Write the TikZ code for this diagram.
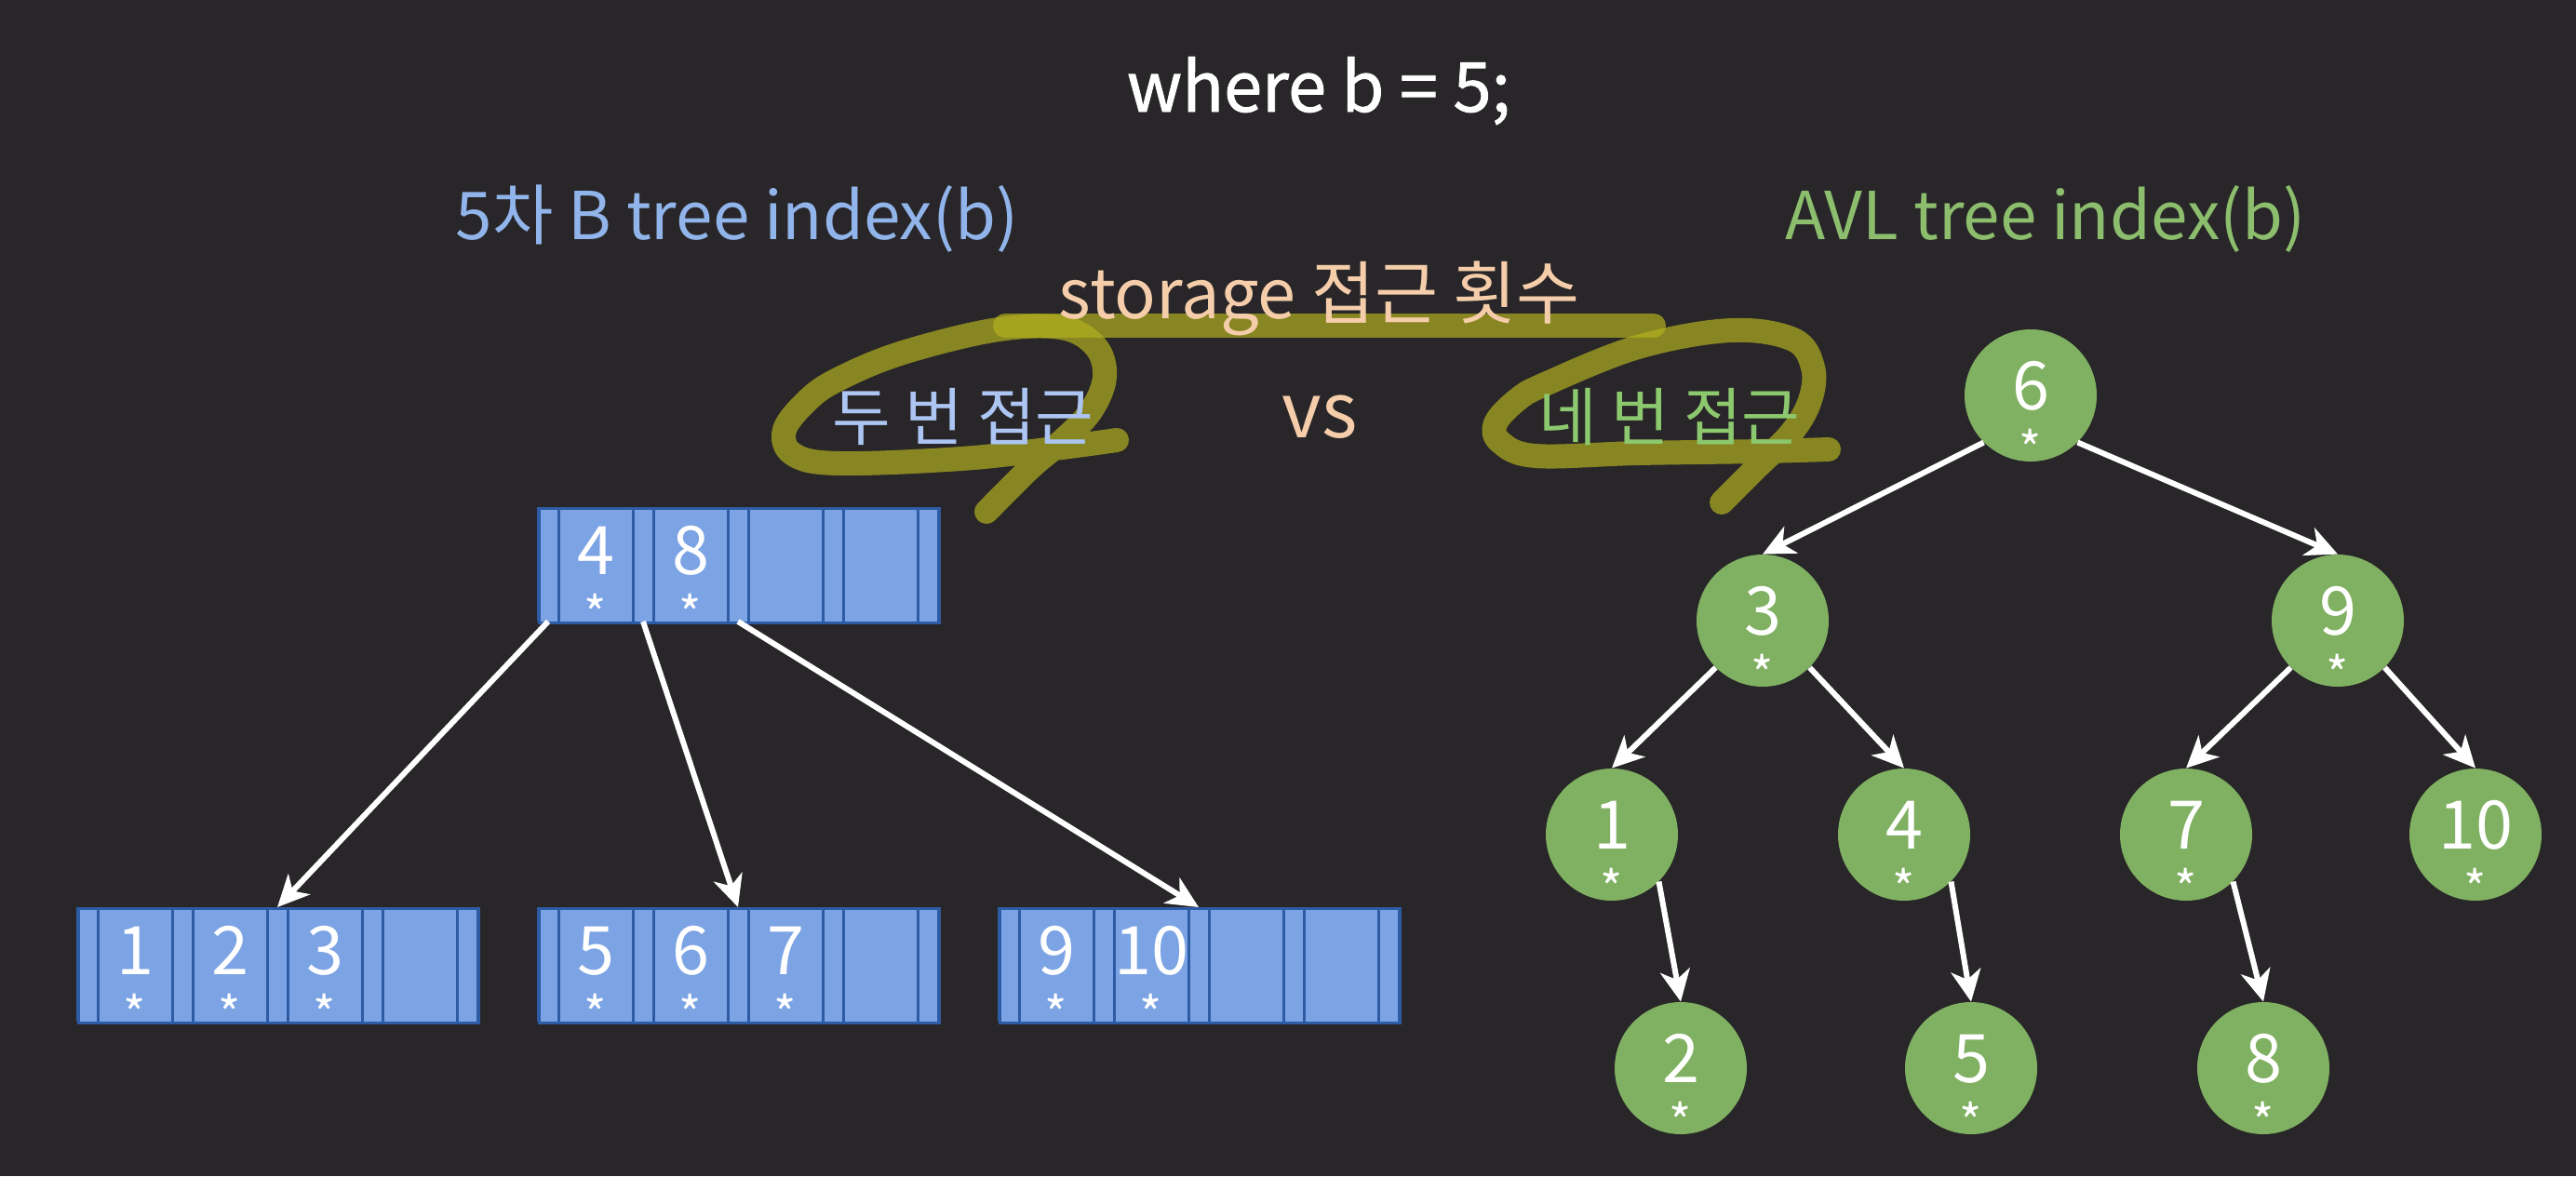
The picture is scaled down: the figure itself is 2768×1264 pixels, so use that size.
\documentclass[tikz,border=0pt]{standalone}
\usepackage{fontspec}
\setmainfont{Noto Sans CJK KR}
\newfontfamily\heavyfont[FakeBold=1.2]{Noto Sans CJK KR}
\usetikzlibrary{arrows.meta}

\definecolor{bgdark}{RGB}{40,38,40}
\definecolor{bluetext}{RGB}{145,180,235}
\definecolor{greentext}{RGB}{140,190,110}
\definecolor{peach}{RGB}{245,205,170}
\definecolor{bluelight}{RGB}{172,197,243}
\definecolor{greenlight}{RGB}{140,200,110}
\definecolor{boxfill}{RGB}{124,163,228}
\definecolor{boxline}{RGB}{45,92,165}
\definecolor{avlfill}{RGB}{128,176,98}
\definecolor{marker}{RGB}{178,176,32}

\begin{document}
\begin{tikzpicture}[x=0.5pt, y=-0.5pt,
  hilite/.style={draw=marker, opacity=0.7, line width=13pt, line cap=round, line join=round},
  heading/.style={font=\fontsize{35.5}{42}\selectfont, inner sep=0pt, anchor=base},
  access/.style={font=\fontsize{34}{40}\selectfont, inner sep=0pt},
  keynum/.style={text=white, font=\fontsize{36}{40}\selectfont, inner sep=0pt, anchor=base},
  keystar/.style={text=white, font=\fontsize{26}{30}\selectfont, inner sep=0pt, anchor=base},
  bbox/.style={draw=boxline, fill=boxfill, line width=1.5pt, minimum width=215pt, minimum height=61.5pt, inner sep=0pt, anchor=north west},
  bline/.style={draw=boxline, line width=1.5pt},
  avl/.style={circle, fill=avlfill, minimum size=71pt, inner sep=0pt},
  ptr/.style={draw=white, line width=3pt, -{Stealth[length=17pt, width=16pt, inset=5pt]}}
]
\useasboundingbox (0,0) rectangle (2768,1264);
\fill[bgdark] (0,0) rectangle (2768,1264);

% marker strokes
\draw[hilite] (1080,350) -- (1777,350);
\draw[hilite] plot[smooth, tension=0.6] coordinates {(1200,473) (1133,482) (1033,493) (900,498) (852,488) (843,462) (868,430) (900,408) (967,380) (1067,355) (1140,352) (1177,372) (1187,405) (1172,442) (1140,475) (1107,503) (1060,550)};
\draw[hilite] plot[smooth, tension=0.6] coordinates {(1965,483) (1893,485) (1760,487) (1650,490) (1612,475) (1607,455) (1630,430) (1660,413) (1760,373) (1860,355) (1927,365) (1948,395) (1945,430) (1925,465) (1885,505) (1850,540)};

% texts
\node[heading, text=white, font=\fontsize{37}{44}\heavyfont] (where) at (1417,120) {where b = 5;};
\node[heading, text=bluetext] (btitle) at (792,257) {5차 B tree index(b)};
\node[heading, text=greentext] (avltitle) at (2198,257) {AVL tree index(b)};
\node[heading, text=peach, font=\fontsize{37}{44}\selectfont] (storage) at (1418,342) {storage 접근 횟수};
\node[access, text=bluelight] (twice) at (1035,448) {두 번 접근};
\node[heading, text=peach, font=\fontsize{41}{48}\selectfont] (vs) at (1418,470) {vs};
\node[access, text=greenlight] (fourtimes) at (1794,448) {네 번 접근};

% B tree blocks
\foreach \bname/\bx/\by/\bkeys in {root/578/545/{4,8}, leafA/83/975/{1,2,3}, leafB/578/975/{5,6,7}, leafC/1073/975/{9,10}} {
  \node[bbox] (\bname) at (\bx,\by) {};
  \foreach \j in {0,...,4} {
    \draw[bline] (\bx+102*\j,\by) -- ++(0,123);
    \draw[bline] (\bx+22+102*\j,\by) -- ++(0,123);
    \coordinate (\bname-t\j) at (\bx+11+102*\j,\by);
    \coordinate (\bname-b\j) at (\bx+11+102*\j,\by+123);
  }
  \foreach \k [count=\j from 0] in \bkeys {
    \node[keynum] (\bname-k\j) at (\bx+62+102*\j,\by+72) {\k};
    \node[keystar] (\bname-s\j) at (\bx+62+102*\j,\by+134) {*};
  }
}
\draw[ptr] (root-b0) -- (leafA-t2);
\draw[ptr] (root-b1) -- (leafB-t2);
\draw[ptr] (root-b2) -- (leafC-t2);

% AVL tree
\foreach \aname/\ax/\ay in {6/2182/425, 3/1894/667, 9/2512/667, 1/1732/897, 4/2046/897, 7/2349/897, 10/2660/897, 2/1806/1148, 5/2118/1148, 8/2432/1148} {
  \node[avl] (n\aname) at (\ax,\ay) {};
  \node[keynum] (n\aname-k) at (\ax,\ay+15) {\aname};
  \node[keystar] (n\aname-s) at (\ax,\ay+77) {*};
}
\foreach \from/\to in {6/3, 3/1, 9/7}
  \draw[ptr] (n\from.south west) -- (n\to.north);
\foreach \from/\to in {6/9, 3/4, 9/10, 1/2, 4/5, 7/8}
  \draw[ptr] (n\from.south east) -- (n\to.north);
\end{tikzpicture}
\end{document}
